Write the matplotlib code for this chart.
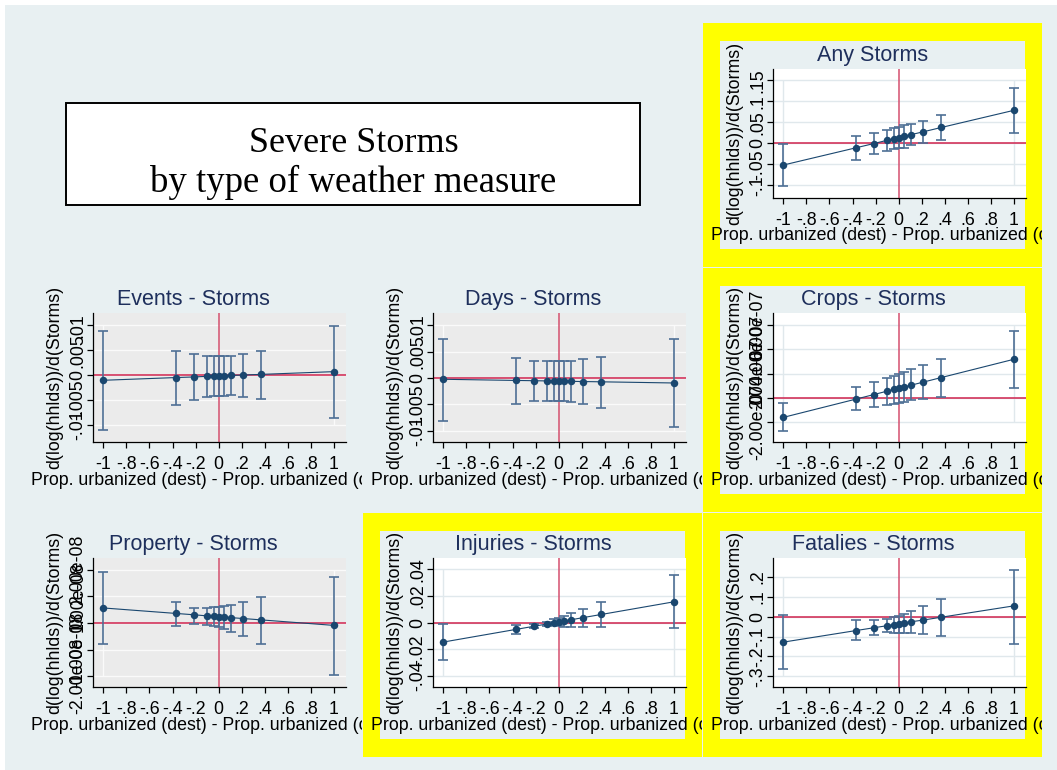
import matplotlib
matplotlib.use("Agg")
import matplotlib.pyplot as plt
from matplotlib.patches import Rectangle
from matplotlib.transforms import Bbox, TransformedBbox

plt.rcParams["font.family"] = ["Liberation Sans", "DejaVu Sans"]

W, H, DPI = 1057, 770, 100

# ---------------------------------------------------------------- data
urban_diff = [-1.0, -0.37, -0.216, -0.105, -0.043, 0.0, 0.043, 0.107, 0.216, 0.37, 1.0]
x_ticks = [-1.0, -0.8, -0.6, -0.4, -0.2, 0.0, 0.2, 0.4, 0.6, 0.8, 1.0]
x_tick_labels = ["-1", "-.8", "-.6", "-.4", "-.2", "0", ".2", ".4", ".6", ".8", "1"]

panel_titles = ["Any Storms", "Events - Storms", "Days - Storms", "Crops - Storms",
                "Property - Storms", "Injuries - Storms", "Fatalies - Storms"]

any_est = [-0.0515, -0.0105, -0.0005, 0.007, 0.011, 0.0138, 0.0165, 0.0207, 0.0277, 0.0378, 0.0786]
any_lo = [-0.1016, -0.039, -0.026, -0.0175, -0.014, -0.011, -0.0105, -0.0048, 0.0, 0.008, 0.0254]
any_hi = [-0.0008, 0.018, 0.024, 0.031, 0.036, 0.039, 0.0435, 0.046, 0.053, 0.068, 0.1325]
any_yticks = [-0.1, -0.05, 0.0, 0.05, 0.1, 0.15]
any_ylabels = ["-.1", "-.05", "0", ".05", ".1", ".15"]

events_est = [-0.00107, -0.00052, -0.0004, -0.00028, -0.0002, -0.0002, -0.00016, -0.0001, -0.00001, 0.00012, 0.00067]
events_lo = [-0.0111, -0.006, -0.0051, -0.0045, -0.0043, -0.0043, -0.0042, -0.0041, -0.0044, -0.0049, -0.0087]
events_hi = [0.00893, 0.00487, 0.0042, 0.0039, 0.0038, 0.0038, 0.0039, 0.0039, 0.0042, 0.0049, 0.0099]
events_yticks = [-0.01, -0.005, 0.0, 0.005, 0.01]
events_ylabels = ["-.01", "-.005", "0", ".005", ".01"]

days_est = [-0.00025, -0.00047, -0.00052, -0.00056, -0.00058, -0.0006, -0.00062, -0.00064, -0.00068, -0.00073, -0.00095]
days_lo = [-0.0081, -0.0049, -0.0044, -0.0043, -0.0043, -0.0043, -0.0043, -0.0045, -0.0049, -0.0056, -0.0093]
days_hi = [0.0073, 0.0037, 0.0033, 0.0032, 0.0032, 0.0032, 0.0032, 0.0032, 0.0035, 0.004, 0.0074]
days_yticks = [-0.01, -0.005, 0.0, 0.005, 0.01]
days_ylabels = ["-.01", "-.005", "0", ".005", ".01"]

crops_est = [-1.59e-07, -0.09e-07, 0.28e-07, 0.55e-07, 0.70e-07, 0.80e-07, 0.90e-07, 1.05e-07, 1.31e-07, 1.68e-07, 3.18e-07]
crops_lo = [-2.68e-07, -0.99e-07, -0.71e-07, -0.55e-07, -0.49e-07, -0.41e-07, -0.36e-07, -0.19e-07, -0.11e-07, 0.11e-07, 0.79e-07]
crops_hi = [-0.44e-07, 0.88e-07, 1.29e-07, 1.67e-07, 1.81e-07, 1.95e-07, 2.14e-07, 2.36e-07, 2.71e-07, 3.23e-07, 5.53e-07]
crops_yticks = [-2e-07, 0.0, 2e-07, 4e-07, 6e-07]
crops_ylabels = ["-2.00e-07", "0", "2.00e-07", "4.00e-07", "6.00e-07"]

property_est = [0.566e-08, 0.36e-08, 0.31e-08, 0.27e-08, 0.25e-08, 0.238e-08, 0.224e-08, 0.203e-08, 0.167e-08, 0.117e-08, -0.09e-08]
property_lo = [-0.79e-08, -0.10e-08, -0.03e-08, -0.06e-08, -0.13e-08, -0.16e-08, -0.21e-08, -0.34e-08, -0.50e-08, -0.79e-08, -1.95e-08]
property_hi = [1.91e-08, 0.78e-08, 0.58e-08, 0.55e-08, 0.59e-08, 0.60e-08, 0.63e-08, 0.69e-08, 0.80e-08, 0.98e-08, 1.74e-08]
property_yticks = [-2e-08, -1e-08, 0.0, 1e-08, 2e-08]
property_ylabels = ["-2.00e-08", "-1.00e-08", "0", "1.00e-08", "2.00e-08"]

injuries_est = [-0.0146, -0.0051, -0.0028, -0.0011, -0.0001, 0.0005, 0.0011, 0.0021, 0.0038, 0.0061, 0.0156]
injuries_lo = [-0.0282, -0.0083, -0.0043, -0.0028, -0.002, -0.0025, -0.003, -0.003, -0.003, -0.003, -0.004]
injuries_hi = [-0.0008, -0.0018, -0.0013, 0.0005, 0.0025, 0.0038, 0.0048, 0.0073, 0.0103, 0.0158, 0.0355]
injuries_yticks = [-0.04, -0.02, 0.0, 0.02, 0.04]
injuries_ylabels = ["-.04", "-.02", "0", ".02", ".04"]

fatalies_est = [-0.128, -0.070, -0.056, -0.046, -0.040, -0.036, -0.032, -0.026, -0.017, -0.003, 0.054]
fatalies_lo = [-0.264, -0.118, -0.094, -0.079, -0.081, -0.081, -0.081, -0.081, -0.086, -0.098, -0.135]
fatalies_hi = [0.008, -0.0185, -0.0185, -0.010, -0.0017, 0.005, 0.015, 0.030, 0.052, 0.0875, 0.236]
fatalies_yticks = [-0.3, -0.2, -0.1, 0.0, 0.1, 0.2]
fatalies_ylabels = ["-.3", "-.2", "-.1", "0", ".1", ".2"]

X_TITLE = "Prop. urbanized (dest) - Prop. urbanized (origin)"
Y_TITLE = "d(log(hhlds))/d(Storms)"

# ---------------------------------------------------------------- style
BG = "#E8F0F2"
GREY_PLOT = "#EBEBEB"
YELLOW = "#FFFF00"
NAVY = "#1A476F"
BAR_C = "#4E6F95"
RED_H = "#D0234E"
RED_V = "#D4506F"
TITLE_C = "#1E2F5C"
LABEL_SIZE = 12.8

# layout in pixels (top-left origin)
CELL_X = [23.3, 363.3, 703.3]
CELL_Y = [23.3, 268.3, 513.3]
CELL_W, CELL_H = 338.4, 243.4
PLOT_X = [92.7, 432.7, 772.7]
PLOT_Y = [69.0, 313.3, 558.3]
PLOT_W, PLOT_H = 253.2, 129.0


def fx(px):
    return px / W


def fy(py):
    return 1.0 - py / H


fig = plt.figure(figsize=(W / DPI, H / DPI), dpi=DPI, facecolor="white")
fig.add_artist(Rectangle((fx(5), 0), 1 - fx(5), fy(5), transform=fig.transFigure,
                         facecolor=BG, edgecolor="none", zorder=-10))

# heading box
fig.add_artist(Rectangle((fx(66), fy(205)), fx(640) - fx(66), fy(103) - fy(205),
                         transform=fig.transFigure, facecolor="white",
                         edgecolor="black", linewidth=1.4, zorder=-5))
fig.text(fx(354), fy(152), "Severe Storms", ha="center", va="baseline",
         fontsize=26, family=["Liberation Serif", "DejaVu Serif"], color="black")
fig.text(fx(353), fy(192), "by type of weather measure", ha="center", va="baseline",
         fontsize=26.5, family=["Liberation Serif", "DejaVu Serif"], color="black")

panels = [
    (0, 2, True, panel_titles[0], any_est, any_lo, any_hi, any_yticks, any_ylabels, (-0.130, 0.177)),
    (1, 0, False, panel_titles[1], events_est, events_lo, events_hi, events_yticks, events_ylabels, (-0.01356, 0.01242)),
    (1, 1, False, panel_titles[2], days_est, days_lo, days_hi, days_yticks, days_ylabels, (-0.01218, 0.01224)),
    (1, 2, True, panel_titles[3], crops_est, crops_lo, crops_hi, crops_yticks, crops_ylabels, (-3.64e-07, 6.96e-07)),
    (2, 0, False, panel_titles[4], property_est, property_lo, property_hi, property_yticks, property_ylabels, (-2.42e-08, 2.435e-08)),
    (2, 1, True, panel_titles[5], injuries_est, injuries_lo, injuries_hi, injuries_yticks, injuries_ylabels, (-0.0486, 0.0483)),
    (2, 2, True, panel_titles[6], fatalies_est, fatalies_lo, fatalies_hi, fatalies_yticks, fatalies_ylabels, (-0.355, 0.293)),
]

for row, col, highlight, title, est, lo, hi, yticks, ylabels, ylim in panels:
    cx, cy = CELL_X[col], CELL_Y[row]
    px, py = PLOT_X[col], PLOT_Y[row]

    if highlight:
        fig.add_artist(Rectangle((fx(cx), fy(cy + CELL_H)), CELL_W / W, CELL_H / H,
                                 transform=fig.transFigure, facecolor=YELLOW,
                                 edgecolor="none", zorder=-8))
        fig.add_artist(Rectangle((fx(cx + 16.7), fy(cy + CELL_H - 17.4)), 305.0 / W, (CELL_H - 34.8) / H,
                                 transform=fig.transFigure, facecolor=BG,
                                 edgecolor="none", zorder=-7))

    ax = fig.add_axes([fx(px), fy(py + PLOT_H), PLOT_W / W, PLOT_H / H])
    ax.set_facecolor("white" if highlight else GREY_PLOT)
    grid_c = "#E0E8EC" if highlight else "#FAFAFA"

    for yt in yticks:
        ax.axhline(yt, color=grid_c, lw=1.0, zorder=0.5)
    ax.vlines([-1.0, 1.0], yticks[0], yticks[-1], color=grid_c, lw=1.0, zorder=0.5)

    ax.axhline(0, color=RED_H, lw=1.1, zorder=1)
    ax.axvline(0, color=RED_V, lw=1.1, zorder=1)

    err_low = [abs(e - l) for e, l in zip(est, lo)]
    err_high = [abs(h - e) for e, h in zip(est, hi)]
    ax.errorbar(urban_diff, est, yerr=[err_low, err_high], fmt="none",
                ecolor=BAR_C, elinewidth=1.2, capsize=3.3, capthick=1.2, zorder=2)
    ax.plot(urban_diff, est, color=NAVY, lw=0.8, marker="o", ms=5.4,
            markeredgewidth=0, zorder=4)

    ax.set_xlim(-1.093, 1.105)
    ax.set_ylim(*ylim)
    ax.set_xticks(x_ticks, x_tick_labels, fontsize=LABEL_SIZE, va="center")
    ax.set_yticks(yticks, ylabels, fontsize=LABEL_SIZE, rotation=90, va="center", ha="center")
    ax.tick_params(axis="both", direction="out", length=4.5, width=0.9, color="black")
    ax.tick_params(axis="x", pad=11.5)
    ax.tick_params(axis="y", pad=6.0)
    for side in ("top", "right"):
        ax.spines[side].set_visible(False)
    for side in ("left", "bottom"):
        ax.spines[side].set_color("black")
        ax.spines[side].set_linewidth(0.9)

    # panel title, centred on the panel's graph region
    fig.text(fx(cx + 169.7), fy(py - 13.5), title, ha="center", va="center",
             fontsize=15.5, color=TITLE_C)
    # axis titles
    fig.text(fx(px - 38), fy(py + PLOT_H / 2), Y_TITLE, ha="center", va="center",
             rotation=90, fontsize=LABEL_SIZE, color="black")
    xt = fig.text(fx(px + PLOT_W / 2), fy(py + PLOT_H + 38), X_TITLE, ha="center",
                  va="center", fontsize=LABEL_SIZE, color="black")
    xt.set_clip_box(TransformedBbox(Bbox.from_extents(fx(cx), fy(cy + CELL_H), fx(cx + CELL_W), fy(cy)),
                                    fig.transFigure))
    xt.set_clip_on(True)

fig.savefig("out.png", dpi=DPI, facecolor="white")
